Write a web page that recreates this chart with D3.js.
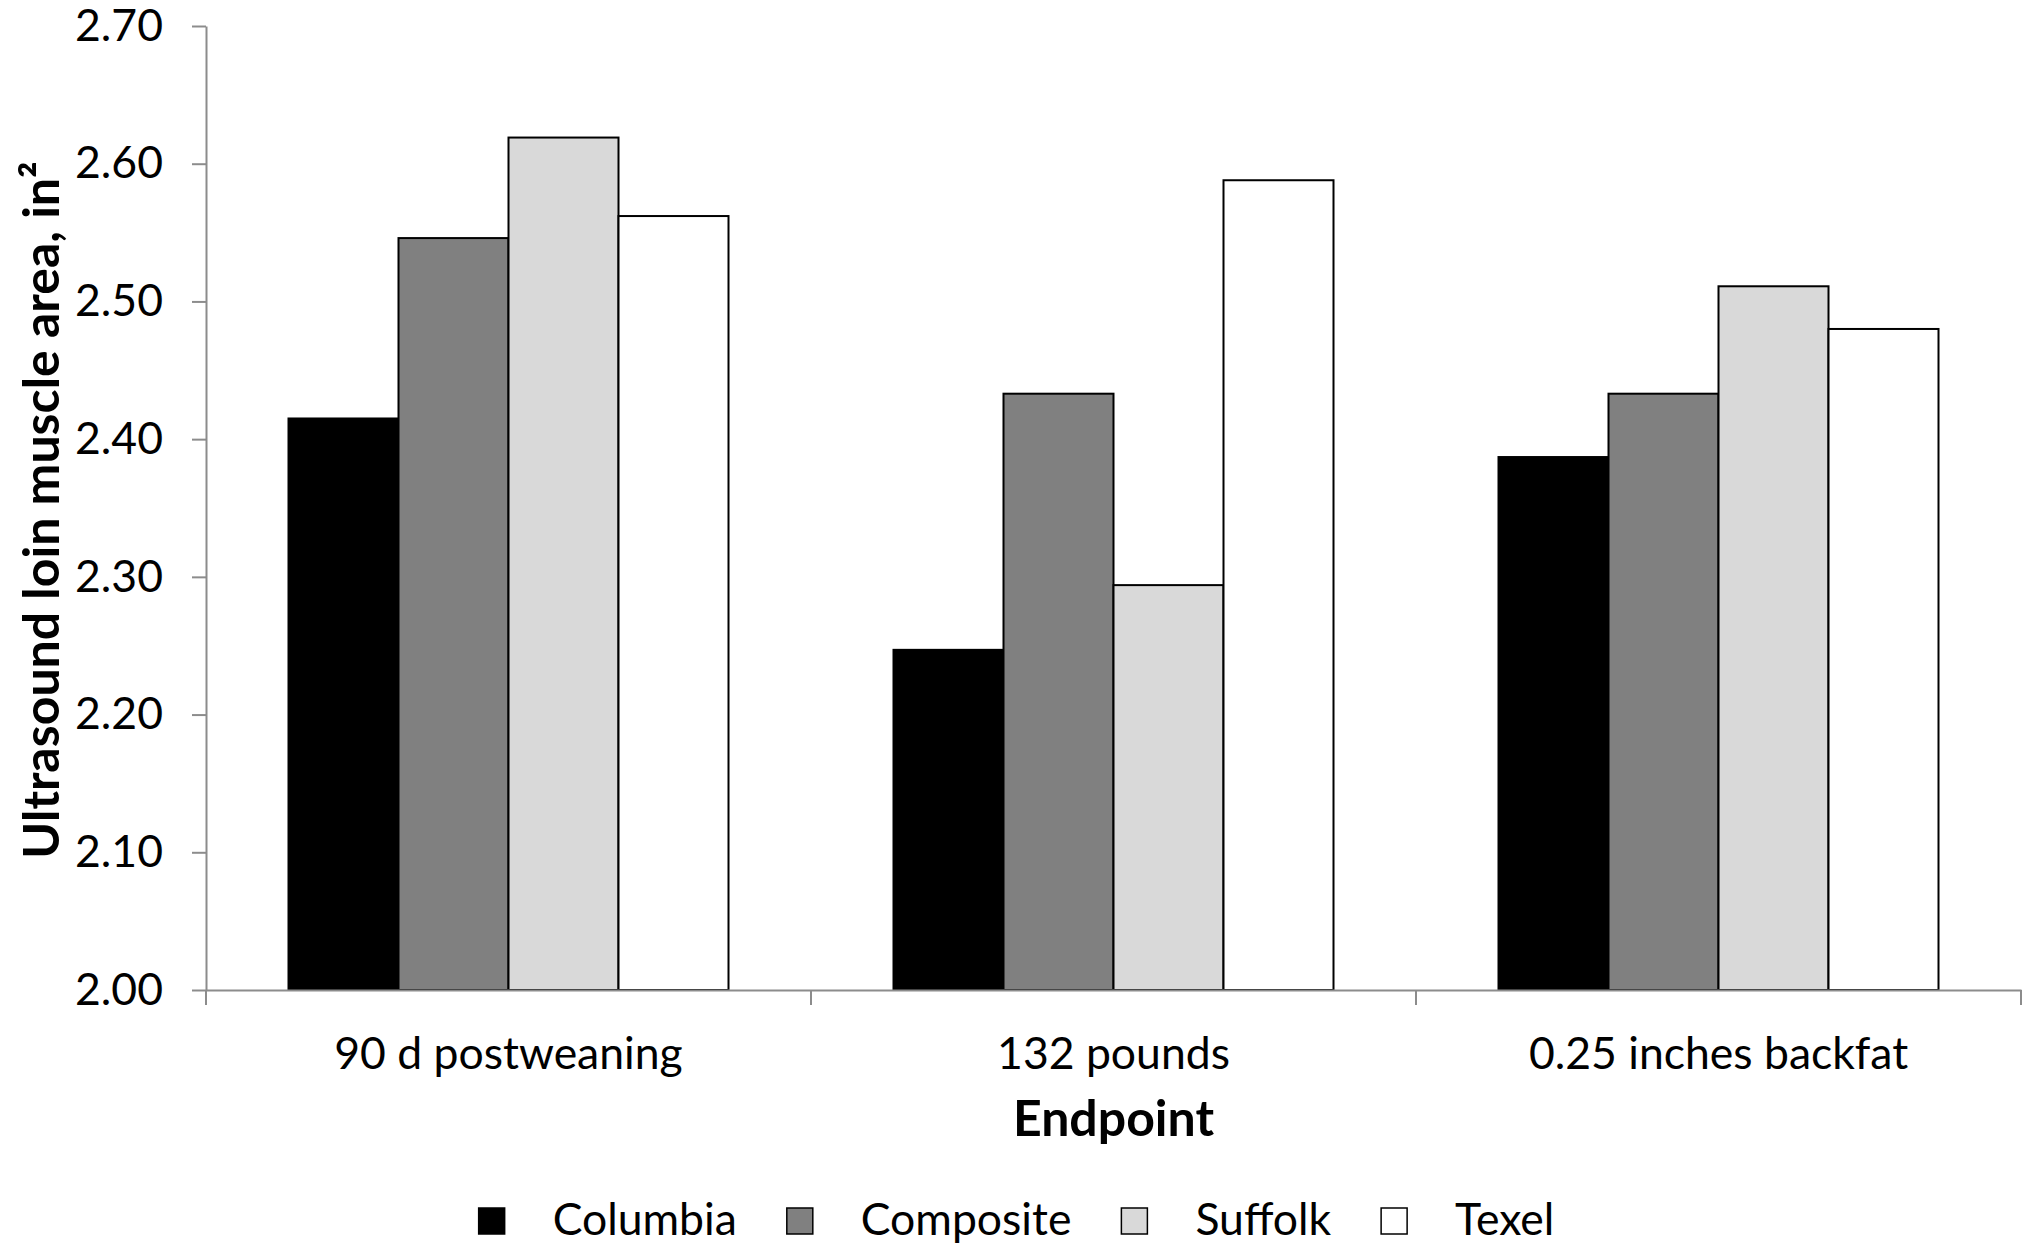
<!DOCTYPE html>
<html>
<head>
<meta charset="utf-8">
<script src="https://cdn.jsdelivr.net/npm/d3@7"></script>
<style>
  html, body { margin: 0; padding: 0; background: #fff; }
  svg { display: block; font-family: Lato, "Noto Sans", sans-serif; }
</style>
</head>
<body>
<svg id="chart" width="2033" height="1245"></svg>
<script>
// Endpoints on the x axis
const categories = ["90 d postweaning", "132 pounds", "0.25 inches backfat"];
// Breeds (legend order)
const breeds = ["Columbia", "Composite", "Suffolk", "Texel"];
// Ultrasound loin muscle area (in²) per endpoint, one array per breed
const columbia  = [2.415, 2.247, 2.387];
const composite = [2.546, 2.433, 2.433];
const suffolk   = [2.619, 2.294, 2.511];
const texel     = [2.562, 2.588, 2.480];
// Y axis tick values
const yTicks = [2.00, 2.10, 2.20, 2.30, 2.40, 2.50, 2.60, 2.70];

const seriesValues = [columbia, composite, suffolk, texel];
const fills = ["#000000", "#808080", "#d9d9d9", "#ffffff"];

const svg = d3.select("#chart");
const W = 2033, H = 1245;
const margin = { left: 206, right: 12, top: 26, bottom: 255 };
const plotBottom = H - margin.bottom;
const axisColor = "#8c8c8c";
const labelSize = "44.5px";

const x0 = d3.scaleBand()
  .domain(categories)
  .range([margin.left, W - margin.right])
  .paddingInner(0).paddingOuter(0);

const x1 = d3.scaleBand()
  .domain(breeds)
  .range([0, x0.bandwidth()])
  .paddingInner(0).paddingOuter(0.75);

const y = d3.scaleLinear()
  .domain([2.0, 2.7])
  .range([plotBottom, margin.top]);

const color = d3.scaleOrdinal().domain(breeds).range(fills);

// Rows: one per endpoint, with each breed's value
const rows = categories.map((c, i) => ({
  category: c,
  values: breeds.map((b, j) => ({ breed: b, value: seriesValues[j][i] }))
}));

// Bars
const groups = svg.append("g").selectAll("g")
  .data(rows).join("g")
  .attr("transform", d => `translate(${x0(d.category)},0)`);

groups.selectAll("rect")
  .data(d => d.values).join("rect")
  .attr("x", d => x1(d.breed))
  .attr("width", x1.bandwidth())
  .attr("y", d => y(d.value))
  .attr("height", d => y(2.0) - y(d.value))
  .attr("fill", d => color(d.breed))
  .attr("stroke", "#000")
  .attr("stroke-width", 2);

// Y axis
const yAxis = svg.append("g")
  .attr("transform", `translate(${margin.left},0)`)
  .call(d3.axisLeft(y).tickValues(yTicks).tickFormat(d3.format(".2f"))
    .tickSize(14).tickSizeOuter(0).tickPadding(29));
yAxis.select(".domain").attr("stroke", axisColor).attr("stroke-width", 2);
yAxis.selectAll(".tick line").attr("stroke", axisColor).attr("stroke-width", 2);
yAxis.selectAll(".tick text")
  .attr("fill", "#000")
  .style("font-size", labelSize)
  .style("font-family", "Lato, sans-serif");

// X axis: line, category labels, and ticks at the band boundaries
const xAxis = svg.append("g")
  .attr("transform", `translate(0,${plotBottom})`)
  .call(d3.axisBottom(x0).tickSize(0).tickSizeOuter(0).tickPadding(47));
xAxis.select(".domain").attr("stroke", axisColor).attr("stroke-width", 2);
xAxis.selectAll(".tick text")
  .attr("fill", "#000")
  .style("font-size", labelSize)
  .style("font-family", "Lato, sans-serif");

const boundaries = categories.map(c => x0(c)).concat([x0.range()[1]]);
xAxis.selectAll("line.boundary")
  .data(boundaries).join("line")
  .attr("class", "boundary")
  .attr("x1", d => d).attr("x2", d => d)
  .attr("y1", 0).attr("y2", 15)
  .attr("stroke", axisColor).attr("stroke-width", 2);

// Axis titles
svg.append("text")
  .attr("x", (margin.left + W - margin.right) / 2)
  .attr("y", 1136)
  .attr("text-anchor", "middle")
  .style("font-size", "50px")
  .style("font-weight", "bold")
  .text("Endpoint");

svg.append("text")
  .attr("transform", `translate(59,${(margin.top + plotBottom) / 2 + 2}) rotate(-90)`)
  .attr("text-anchor", "middle")
  .style("font-size", "50px")
  .style("font-weight", "bold")
  .text("Ultrasound loin muscle area, in²");

// Legend
const legend = svg.append("g");
const items = legend.selectAll("g").data(breeds).join("g");
items.append("rect")
  .attr("width", 26).attr("height", 26)
  .attr("y", -27)
  .attr("fill", d => color(d))
  .attr("stroke", "#000").attr("stroke-width", 1.5);
items.append("text")
  .attr("x", 74)
  .attr("y", 0)
  .style("font-size", labelSize)
  .text(d => d);

const itemGap = 50;
let cursor = 0;
items.each(function () {
  const w = this.querySelector("text").getComputedTextLength();
  d3.select(this).attr("transform", `translate(${cursor},0)`);
  cursor += 74 + w + itemGap;
});
const legendWidth = cursor - itemGap;
legend.attr("transform", `translate(${(W - legendWidth) / 2},1235)`);
</script>
</body>
</html>
